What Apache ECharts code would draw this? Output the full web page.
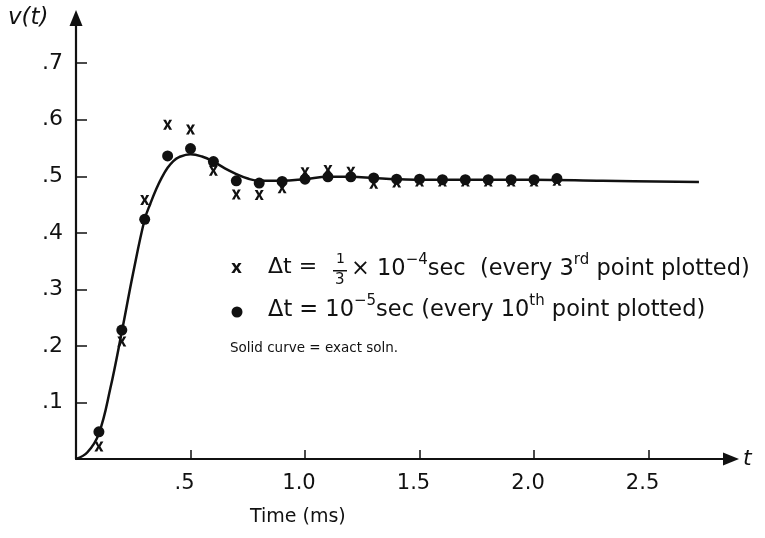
<!DOCTYPE html>
<html>
<head>
<meta charset="utf-8">
<script src="https://cdn.jsdelivr.net/npm/echarts@6/dist/echarts.min.js"></script>
<style>html,body{margin:0;padding:0;background:#fff}#c{width:765px;height:538px}</style>
</head>
<body>
<div id="c"></div>
<script>
// Exact solution curve
var curveT = [0, 0.05, 0.1, 0.15, 0.2, 0.25, 0.3, 0.325, 0.35, 0.375, 0.4, 0.425, 0.45, 0.5, 0.55, 0.6, 0.65, 0.7, 0.75, 0.8, 0.9, 1.0, 1.1, 1.2, 1.3, 1.4, 1.5, 1.7, 2.0, 2.3, 2.72];
var curveV = [0, 0.012, 0.045, 0.125, 0.225, 0.33, 0.424, 0.452, 0.477, 0.498, 0.515, 0.527, 0.534, 0.539, 0.535, 0.526, 0.514, 0.504, 0.496, 0.492, 0.492, 0.495, 0.499, 0.499, 0.497, 0.495, 0.494, 0.494, 0.494, 0.492, 0.490];
// Sample times (every plotted point)
var sampleT = [0.1, 0.2, 0.3, 0.4, 0.5, 0.6, 0.7, 0.8, 0.9, 1.0, 1.1, 1.2, 1.3, 1.4, 1.5, 1.6, 1.7, 1.8, 1.9, 2.0, 2.1];
// dt = 1e-5 sec (dots)
var dotV = [0.048, 0.228, 0.424, 0.536, 0.549, 0.526, 0.492, 0.488, 0.491, 0.495, 0.499, 0.499, 0.497, 0.495, 0.495, 0.494, 0.494, 0.494, 0.494, 0.494, 0.496];
// dt = 1/3e-4 sec (crosses)
var crossV = [0.022, 0.208, 0.458, 0.591, 0.583, 0.510, 0.468, 0.467, 0.479, 0.507, 0.511, 0.508, 0.487, 0.489, 0.491, 0.491, 0.491, 0.491, 0.491, 0.491, 0.492];
// Ticks
var xTicks = [0.5, 1.0, 1.5, 2.0, 2.5];
var yTicks = [0.1, 0.2, 0.3, 0.4, 0.5, 0.6, 0.7];

function pairs(xs, ys) { return xs.map(function (x, i) { return [x, ys[i]]; }); }

var INK = '#111';
var FONT = 'DejaVu Sans';
var crossPath = 'path://M0,0L3.2,0L5,3.4L6.8,0L10,0L6.7,5L10,10L6.8,10L5,6.6L3.2,10L0,10L3.3,5Z';
var rich = {
  n: { fontFamily: FONT, fontSize: 22.5, lineHeight: 28, verticalAlign: 'bottom', fill: INK },
  s: { fontFamily: FONT, fontSize: 15, lineHeight: 28, verticalAlign: 'top', fill: INK }
};

var chart = echarts.init(document.getElementById('c'), null, { renderer: 'canvas' });
chart.setOption({
  backgroundColor: '#fff',
  animation: false,
  grid: { left: 76, right: 34, top: 18, bottom: 79, containLabel: false },
  xAxis: {
    type: 'value', min: 0, max: 2.86,
    splitLine: { show: false },
    axisLine: { show: true, lineStyle: { color: INK, width: 2.2 }, symbol: ['none', 'triangle'], symbolSize: [13, 16] },
    axisTick: { show: true, inside: true, length: 9, customValues: xTicks, lineStyle: { color: INK, width: 1.5 } },
    axisLabel: {
      show: true, customValues: xTicks, margin: 14, color: INK, fontFamily: FONT, fontSize: 21,
      padding: [0, 12, 0, 0],
      formatter: function (v) { return v === 0.5 ? '.5' : v.toFixed(1); }
    }
  },
  yAxis: {
    type: 'value', min: 0, max: 0.78,
    splitLine: { show: false },
    axisLine: { show: true, lineStyle: { color: INK, width: 2.2 }, symbol: ['none', 'triangle'], symbolSize: [13, 16] },
    axisTick: { show: true, inside: true, length: 11, customValues: yTicks, lineStyle: { color: INK, width: 1.5 } },
    axisLabel: {
      show: true, customValues: yTicks, margin: 13, color: INK, fontFamily: FONT, fontSize: 22,
      formatter: function (v) { return '.' + Math.round(v * 10); }
    }
  },
  series: [
    {
      name: 'exact', type: 'line', data: pairs(curveT, curveV), smooth: 0.4, showSymbol: false,
      lineStyle: { color: INK, width: 2.5 }, z: 2
    },
    {
      name: 'dt1', type: 'scatter', data: pairs(sampleT, crossV), symbol: crossPath, symbolSize: [9, 10],
      itemStyle: { color: INK, opacity: 1 }, z: 3
    },
    {
      name: 'dt2', type: 'scatter', data: pairs(sampleT, dotV), symbol: 'circle', symbolSize: 11,
      itemStyle: { color: INK, opacity: 1 }, z: 4
    }
  ],
  graphic: [
    { type: 'text', left: 8, top: 7, style: { text: 'v(t)', font: 'italic 23px ' + FONT, fill: INK } },
    { type: 'text', left: 743, top: 448, style: { text: 't', font: 'italic 22px ' + FONT, fill: INK } },
    { type: 'text', left: 250, top: 508, style: { text: 'Time (ms)', font: '19px ' + FONT, fill: INK } },
    // legend line 1
    { type: 'text', left: 231, top: 260, style: { text: 'x', font: 'bold 17px ' + FONT, fill: INK } },
    { type: 'text', left: 268, top: 256, style: { text: 'Δt =', font: '22px ' + FONT, fill: INK } },
    { type: 'text', left: 336, top: 252, style: { text: '1', font: '14px ' + FONT, fill: INK } },
    { type: 'rect', shape: { x: 333, y: 270, width: 14, height: 1.5 }, style: { fill: INK } },
    { type: 'text', left: 335, top: 273, style: { text: '3', font: '15px ' + FONT, fill: INK } },
    {
      type: 'text', left: 351, top: 253,
      style: { text: '{n|× 10}{s|−4}{n|sec}{n|  (every 3}{s|rd}{n| point plotted)}', fill: INK, rich: rich }
    },
    // legend line 2
    { type: 'circle', shape: { cx: 237, cy: 312, r: 5.5 }, style: { fill: INK } },
    {
      type: 'text', left: 268, top: 294,
      style: { text: '{n|Δt = 10}{s|−5}{n|sec (every 10}{s|th}{n| point plotted)}', fill: INK, rich: rich }
    },
    { type: 'text', left: 230, top: 341, style: { text: 'Solid curve = exact soln.', font: '13.5px ' + FONT, fill: INK } }
  ]
});
</script>
</body>
</html>
